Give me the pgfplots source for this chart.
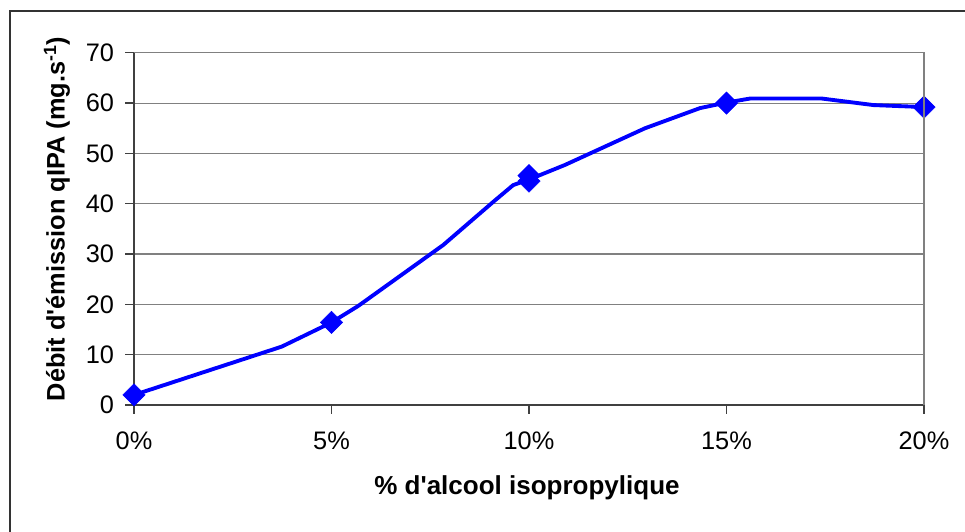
\documentclass[border=0pt]{standalone}
\usepackage{fontspec}
\setmainfont{Liberation Sans}
\usepackage{pgfplots}
\pgfplotsset{compat=1.18}
\definecolor{gridgray}{RGB}{128,128,128}
\definecolor{axdark}{RGB}{64,64,64}
\definecolor{frame}{RGB}{51,51,51}
\begin{document}
\begin{tikzpicture}
\path[use as bounding box] (0,0) rectangle (723.75pt,399pt);
\draw[frame, line width=1.5pt] (7.5pt,-2pt) -- (7.5pt,390.75pt) -- (726pt,390.75pt);
\begin{axis}[
  at={(100.5pt,95.25pt)}, anchor=south west,
  scale only axis, width=592.5pt, height=264.2pt,
  xmin=0, xmax=20, ymin=0, ymax=70,
  axis x line*=bottom, axis y line*=left,
  axis line style={axdark, line width=0.9pt},
  xtick={0,5,10,15,20},
  xticklabels={0\%,5\%,10\%,15\%,20\%},
  ytick={0,10,20,30,40,50,60,70},
  tick align=outside, major tick length=6.5pt,
  tick style={axdark, line width=0.9pt},
  ymajorgrids, grid style={gridgray, line width=0.8pt},
  /pgf/number format/assume math mode=true,
  ticklabel style={font=\fontsize{19}{22}\selectfont},
  xticklabel style={yshift=-10pt},
  yticklabel style={xshift=-5pt},
  clip=false,
  after end axis/.code={
    \draw[gridgray, line width=1pt] (rel axis cs:0,1) -- (rel axis cs:1,1) -- (rel axis cs:1,0);
  },
]
\addplot[color={rgb,255:red,0;green,0;blue,255}, line width=2.9pt, line join=round] coordinates {
(0,2) (3.74,11.6) (5,16.4) (5.68,19.7) (7.83,31.8) (9.1,40.4) (9.6,43.7) (10,44.8)
(10.91,47.7) (12.94,55.0) (14.33,59.0) (15,60.1) (15.6,60.9) (17.41,60.9) (18.72,59.6) (20,59.2)
};
\addplot[only marks, mark=square*, mark size=5.9pt,
  mark options={rotate=45, fill={rgb,255:red,0;green,0;blue,255}, draw={rgb,255:red,0;green,0;blue,255}}] coordinates {
(0,2) (5,16.4) (10,44.5) (10,45.6) (15,60) (20,59.2)
};
\end{axis}
\node[rotate=90, font=\fontsize{19}{22}\selectfont\bfseries] at (42.75pt,234.75pt) {Débit d\textquotesingle émission qIPA (mg.s\textsuperscript{-1})};
\node[font=\fontsize{19.5}{22}\selectfont\bfseries] at (395.25pt,33pt) {\% d\textquotesingle alcool isopropylique};
\end{tikzpicture}
\end{document}
